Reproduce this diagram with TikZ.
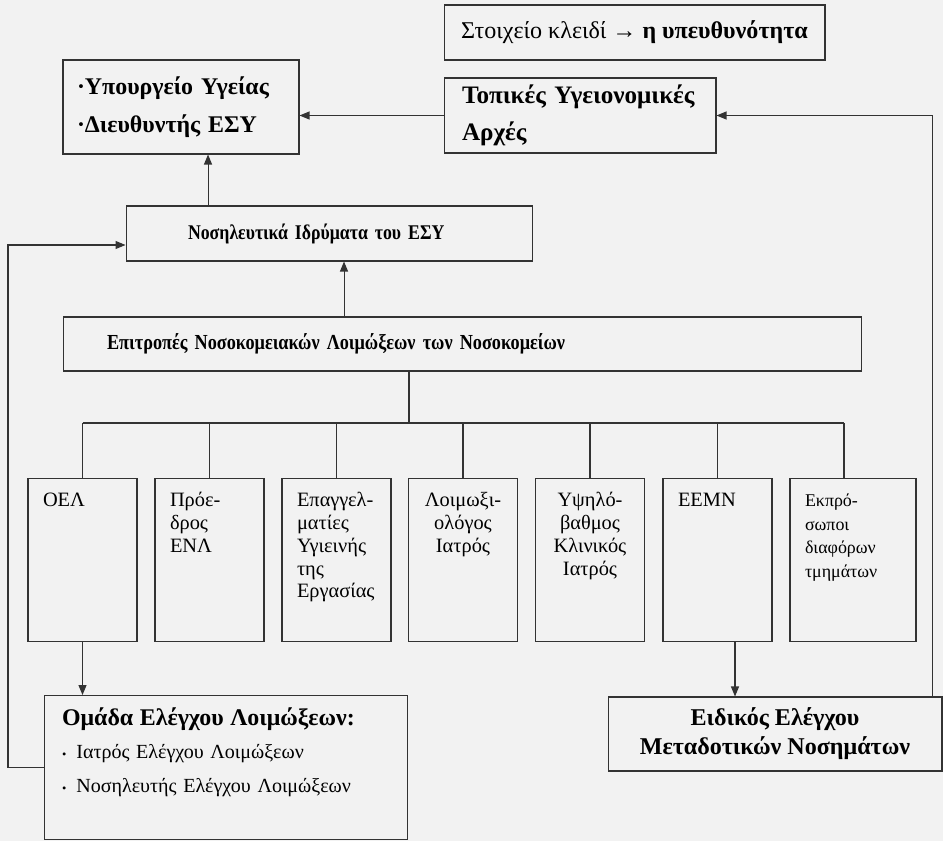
\documentclass[tikz,border=0pt]{standalone}
\usepackage{fontspec}
\setmainfont{Liberation Serif}
\newfontfamily\narrowserif[FakeStretch=0.85]{Liberation Serif}
\usetikzlibrary{arrows.meta,positioning,calc}

\begin{document}
\begin{tikzpicture}[
  x=0.02cm, y=-0.02cm,
  line width=0.6pt,
  head/.style={draw=black!80, inner ysep=0pt, align=left},
  bar/.style={draw=black!80, minimum height=1.1cm, inner ysep=0pt, align=left},
  col/.style={draw=black!80, anchor=north, text width=1.58cm, inner xsep=0.3cm, inner ysep=0pt, text height=0.56cm, text depth=2.7cm, align=left, font=\fontsize{11.6}{13}\selectfont},
  arrow/.style={-{Triangle[length=2mm,width=1.6mm]}, draw=black!80}
]
\useasboundingbox (0,0) rectangle (943,841);
\fill[black!5] (0,0) rectangle (943,841);

\node[draw=black!80, minimum width=7.62cm, minimum height=1.1cm, inner sep=0pt, font=\fontsize{13.7}{15}\selectfont] (key) at (634.5,32.5) {Στοιχείο κλειδί → \textbf{η υπευθυνότητα}};

\node[head, text width=4.16cm, inner xsep=0.28cm, minimum height=1.88cm, font=\fontsize{13.6}{21.5}\selectfont\bfseries] (minist) at (181,107) {·Υπουργείο Υγείας\\·Διευθυντής ΕΣΥ};
\node[head, text width=4.72cm, inner xsep=0.36cm, minimum height=1.5cm, font=\fontsize{14.3}{21}\selectfont\bfseries] (topikes) at (580,115.5) {Τοπικές Υγειονομικές\\Αρχές};

\node[bar, text width=5.66cm, inner xsep=1.24cm, font=\narrowserif\fontsize{11.9}{13}\selectfont\bfseries] (nosil) at (329.5,233.5) {Νοσηλευτικά Ιδρύματα του ΕΣΥ};
\node[bar, text width=14.22cm, inner xsep=0.88cm, minimum height=1.08cm, font=\narrowserif\fontsize{12.2}{13}\selectfont\bfseries] (epitr) at (462.5,344) {Επιτροπές Νοσοκομειακών Λοιμώξεων των Νοσοκομείων};

\node[col] (c1) at (82.5,478) {ΟΕΛ};
\node[col] (c2) at (209.5,478) {Πρόε-\\δρος\\ΕΝΛ};
\node[col] (c3) at (336.5,478) {Επαγγελ-\\ματίες\\Υγιεινής\\της\\Εργασίας};
\node[col, align=center] (c4) at (463,478) {Λοιμωξι-\\ολόγος\\Ιατρός};
\node[col, align=center] (c5) at (590,478) {Υψηλό-\\βαθμος\\Κλινικός\\Ιατρός};
\node[col] (c6) at (717.5,478) {ΕΕΜΝ};
\node[col, text width=1.92cm, font=\fontsize{10.2}{13.4}\selectfont] (c7) at (853,478) {Εκπρό-\\σωποι\\διαφόρων\\τμημάτων};

\node[draw=black!80, text width=6.56cm, inner xsep=0.36cm, inner ysep=0pt, text height=0.6cm, text depth=2.28cm, align=left, font=\fontsize{11.4}{19}\selectfont] (omada) at (226,695) [anchor=north] {{\fontsize{13.6}{19}\selectfont\bfseries Ομάδα Ελέγχου Λοιμώξεων:}\\{\scriptsize•}\, Ιατρός Ελέγχου Λοιμώξεων\\{\scriptsize•}\, Νοσηλευτής Ελέγχου Λοιμώξεων};
\node[draw=black!80, minimum width=6.68cm, minimum height=1.48cm, inner sep=0pt, align=center, font=\fontsize{13.7}{16.5}\selectfont\bfseries] (eidikos) at (775,734) {Ειδικός Ελέγχου\\Μεταδοτικών Νοσημάτων};

\coordinate (bar) at (0,423);
\coordinate (lft) at (8,0);
\coordinate (a1) at ([xshift=-2.43cm]nosil.north);
\coordinate (a2) at ([xshift=-2.37cm]epitr.north);
\coordinate (t0) at ([xshift=-1.07cm]epitr.south);
\coordinate (d7) at ([xshift=-0.18cm]c7.north);
\coordinate (e6) at ([xshift=0.35cm]c6.south);
\coordinate (rgt) at ([xshift=-0.2cm]eidikos.north east);

\draw[arrow] (topikes.west) -- (topikes.west -| minist.east);
\draw[arrow] (rgt) |- (topikes.east);
\draw[arrow] (a1) -- (a1 |- minist.south);
\draw[arrow] (a2) -- (a2 |- nosil.south);
\draw[arrow] (omada.west) -- (omada.west -| lft) |- ([yshift=-0.23cm]nosil.west);

\draw[draw=black!80] (t0) -- (t0 |- bar);
\draw[draw=black!80] (c1.north |- bar) -- (d7 |- bar);
\foreach \c in {c1,c2,c3,c4,c5,c6} \draw[draw=black!80] (\c.north |- bar) -- (\c.north);
\draw[draw=black!80] (d7 |- bar) -- (d7);

\draw[arrow] (c1.south) -- (c1.south |- omada.north);
\draw[arrow] (e6) -- (e6 |- eidikos.north);
\end{tikzpicture}
\end{document}
